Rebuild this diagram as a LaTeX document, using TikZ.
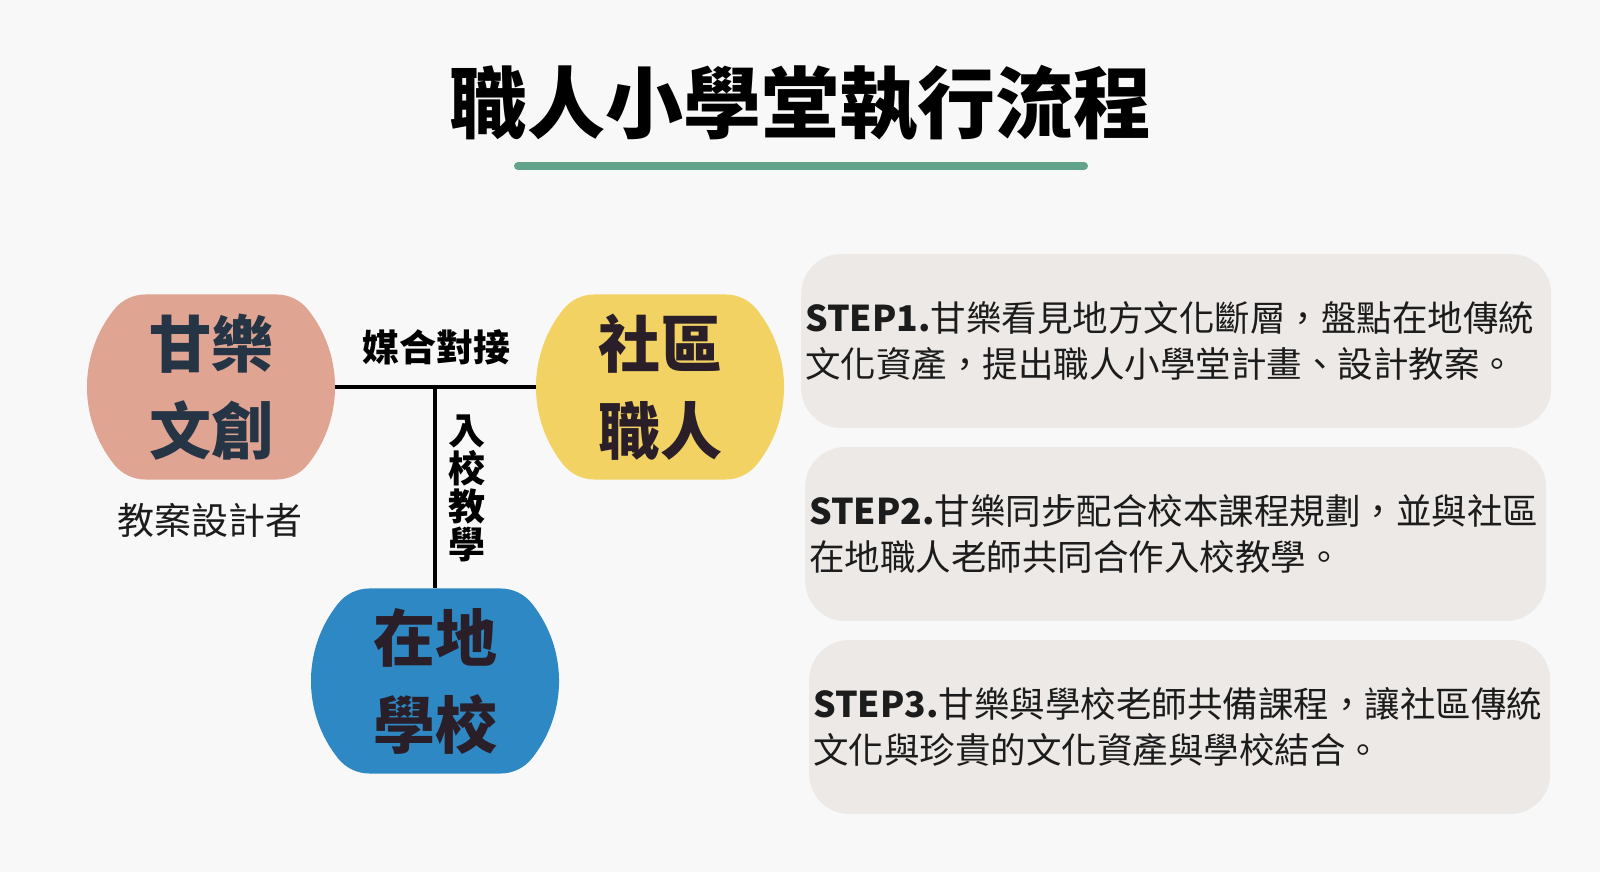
\documentclass[tikz,border=0pt]{standalone}
\usepackage{fontspec}
\setmainfont{Noto Sans CJK TC}
\usetikzlibrary{positioning}
\definecolor{bgc}{HTML}{F8F8F8}
\definecolor{pinkc}{HTML}{E0A493}
\definecolor{yellowc}{HTML}{F2D263}
\definecolor{bluec}{HTML}{2D88C4}
\definecolor{linec}{HTML}{62A38B}
\definecolor{boxc}{HTML}{EDE9E6}
\definecolor{slatec}{HTML}{263545}
\definecolor{inkc}{HTML}{2A1E28}
\definecolor{textc}{HTML}{1C1C1C}

\begin{document}
\begin{tikzpicture}[x=1pt, y=-1pt,
    role/.style={minimum width=248pt, minimum height=185pt, inner sep=0pt, align=center,
        font=\fontsize{62}{87}\selectfont\bfseries,
        path picture={\fill[#1] (path picture bounding box.center) ++(-65.6,92.5)
            -- ++(131.2,0) arc[start angle=90, end angle=38.7, radius=40]
            arc[start angle=38.7, end angle=-38.7, radius=124]
            arc[start angle=-38.7, end angle=-90, radius=40] -- ++(-131.2,0)
            arc[start angle=270, end angle=218.7, radius=40]
            arc[start angle=218.7, end angle=141.3, radius=124]
            arc[start angle=141.3, end angle=90, radius=40] -- cycle;}},
    tag/.style={font=\fontsize{37}{38}\selectfont\bfseries, align=center, inner sep=0pt},
    stepbox/.style={fill=boxc, rounded corners=40pt, minimum height=174pt, text width=#1,
        align=left, inner xsep=4pt, anchor=west, text=textc, font=\fontsize{35.5}{46}\selectfont},
    link/.style={line width=4pt, draw=black}
]
\fill[bgc] (0,0) rectangle (1600,872);
\useasboundingbox (0,0) rectangle (1600,872);

% title
\node[font=\fontsize{78}{78}\selectfont\bfseries, text=black] (title) at (800,103) {職人小學堂執行流程};
\draw[line width=8pt, line cap=round, draw=linec] (518,166) -- (1084,166);

% roles
\node[role=pinkc, text=slatec] (gan) at (211,387) {甘樂\\文創};
\node[role=yellowc, text=inkc] (she) at (660,387) {社區\\職人};
\node[role=bluec, text=inkc] (xiao) at (435,681) {在地\\學校};
\node[font=\fontsize{37}{38}\selectfont, text=textc] (designer) at (210,520) {教案設計者};

% links
\coordinate (fork) at (xiao.north |- gan.east);
\draw[link] (gan.east) -- (she.west);
\draw[link] (fork) -- (xiao.north);
\node[tag] (match) at (436,347) {媒合對接};
\node[tag] (teach) at (467,488) {入\\校\\教\\學};

% steps
\node[stepbox=742pt] (s1) at (801,341) {\textbf{STEP1.}甘樂看見地方文化斷層，盤點在地傳統\\文化資產，提出職人小學堂計畫、設計教案。};
\node[stepbox=733pt] (s2) at (805,534) {\textbf{STEP2.}甘樂同步配合校本課程規劃，並與社區\\在地職人老師共同合作入校教學。};
\node[stepbox=733pt] (s3) at (809,727) {\textbf{STEP3.}甘樂與學校老師共備課程，讓社區傳統\\文化與珍貴的文化資產與學校結合。};
\end{tikzpicture}
\end{document}
